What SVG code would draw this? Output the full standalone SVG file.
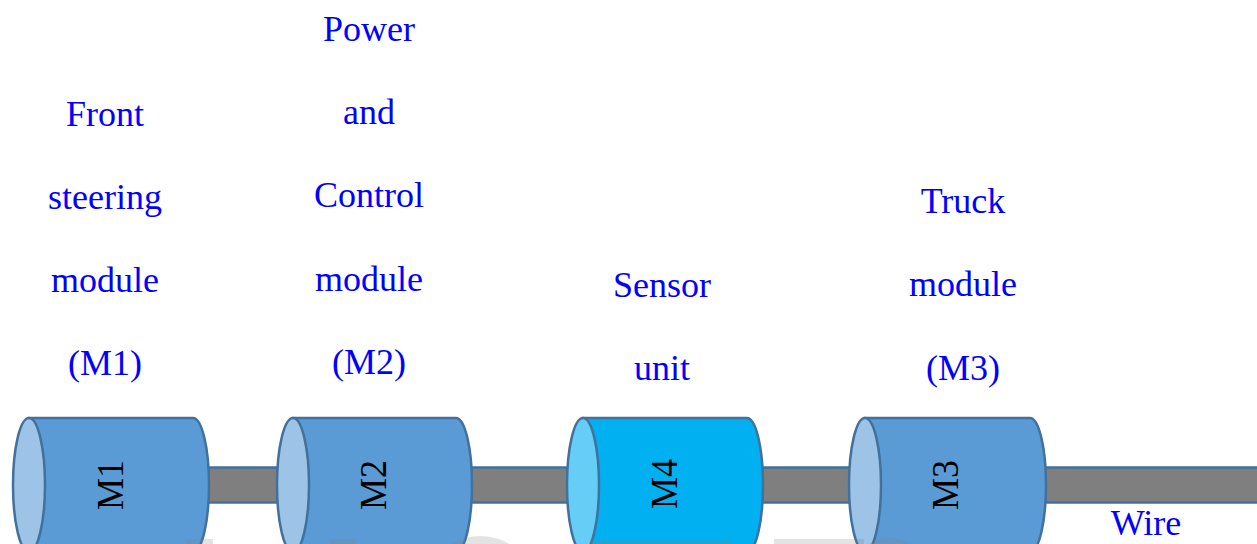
<svg xmlns="http://www.w3.org/2000/svg" width="1257" height="544" viewBox="0 0 1257 544">
<style>
.lbl{font-family:"Liberation Serif","Times New Roman",serif;font-size:36px;fill:#0000ff;text-anchor:middle}
.mod{font-family:"Liberation Serif","Times New Roman",serif;font-size:36px;fill:#000;text-anchor:middle}
.body{fill:#5b9bd5;stroke:#41719c;stroke-width:2.5}
.cap{fill:#9dc3e6;stroke:#41719c;stroke-width:2.5}
.body4{fill:#00b0f0;stroke:#41719c;stroke-width:2.5}
.cap4{fill:#66cdf6;stroke:#41719c;stroke-width:2.5}
.wm{fill:#7f7f7f;opacity:0.22}
</style>
<rect width="1257" height="544" fill="#fff"/>
<g id="connectors">
  <rect x="180" y="467.5" width="1090" height="35" fill="#7f7f7f" stroke="#41719c" stroke-width="2.5"/>
</g>
<g id="M1">
  <path class="body" d="M29,418 L193,418 A16,67 0 0 1 193,552 L29,552 Z"/>
  <ellipse class="cap" cx="29" cy="485" rx="16" ry="67"/>
  <text class="mod" transform="translate(123,485) rotate(-90) scale(1,1.08)">M1</text>
</g>
<g id="M2">
  <path class="body" d="M293,418 L456,418 A16,67 0 0 1 456,552 L293,552 Z"/>
  <ellipse class="cap" cx="293" cy="485" rx="16" ry="67"/>
  <text class="mod" transform="translate(386,485) rotate(-90) scale(1,1.08)">M2</text>
</g>
<g id="M4">
  <path class="body4" d="M583,418 L747,418 A16,67 0 0 1 747,552 L583,552 Z"/>
  <ellipse class="cap4" cx="583" cy="485" rx="16" ry="67"/>
  <text class="mod" transform="translate(677,484) rotate(-90) scale(1,1.08)">M4</text>
</g>
<g id="M3">
  <path class="body" d="M865,418 L1030,418 A16,67 0 0 1 1030,552 L865,552 Z"/>
  <ellipse class="cap" cx="865" cy="485" rx="16" ry="67"/>
  <text class="mod" transform="translate(958,485) rotate(-90) scale(1,1.08)">M3</text>
</g>
<g id="label-M1">
  <text class="lbl" x="105" y="126">Front</text>
  <text class="lbl" x="105" y="209">steering</text>
  <text class="lbl" x="105" y="292">module</text>
  <text class="lbl" x="105" y="375">(M1)</text>
</g>
<g id="label-M2">
  <text class="lbl" x="369" y="41">Power</text>
  <text class="lbl" x="369" y="124">and</text>
  <text class="lbl" x="369" y="207">Control</text>
  <text class="lbl" x="369" y="291">module</text>
  <text class="lbl" x="369" y="374">(M2)</text>
</g>
<g id="label-M4">
  <text class="lbl" x="662" y="297">Sensor</text>
  <text class="lbl" x="662" y="380">unit</text>
</g>
<g id="label-M3">
  <text class="lbl" x="963" y="213">Truck</text>
  <text class="lbl" x="963" y="296">module</text>
  <text class="lbl" x="963" y="380">(M3)</text>
</g>
<g id="label-wire">
  <text class="lbl" x="1146" y="535">Wire</text>
</g>
<g id="watermark">
  <rect class="wm" x="186" y="539" width="27" height="6"/>
  <rect class="wm" x="330" y="539" width="26" height="6"/>
  <ellipse class="wm" cx="480" cy="600" rx="60" ry="64"/>
  <rect class="wm" x="590" y="539" width="142" height="6"/>
  <rect class="wm" x="774" y="539" width="90" height="6"/>
  <ellipse class="wm" cx="890" cy="600" rx="50" ry="62"/>
</g>
</svg>
